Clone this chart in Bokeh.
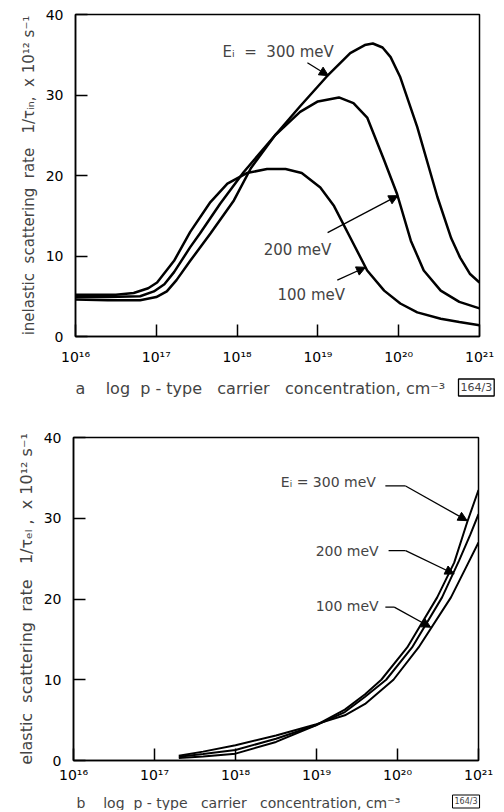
from bokeh.plotting import figure
from bokeh.layouts import column
from bokeh.models import Label, Arrow, NormalHead, Range1d, FixedTicker
from bokeh.embed import file_html
from bokeh.resources import INLINE

# ---------------- data: panel a (inelastic), x = log10 p ----------------
in_x_100 = [16.0, 16.5, 16.72, 16.9, 17.01, 17.22, 17.42, 17.67, 17.88, 18.12, 18.37, 18.6, 18.8,
            19.03, 19.2, 19.4, 19.61, 19.82, 20.02, 20.23, 20.52, 20.75, 21.0]
in_y_100 = [5.2, 5.2, 5.4, 6.0, 6.7, 9.4, 13.0, 16.7, 19.0, 20.3, 20.8, 20.8, 20.3,
            18.5, 16.2, 12.3, 8.2, 5.7, 4.1, 3.0, 2.2, 1.8, 1.4]
in_x_200 = [16.0, 16.4, 16.8, 16.97, 17.1, 17.22, 17.42, 17.54, 17.79, 18.08, 18.47, 18.78, 19.0,
            19.26, 19.44, 19.61, 19.82, 19.98, 20.15, 20.31, 20.52, 20.75, 21.0]
in_y_200 = [4.9, 4.9, 5.0, 5.6, 6.5, 8.0, 11.1, 12.8, 16.5, 20.4, 25.0, 27.9, 29.2,
            29.7, 29.0, 27.2, 21.9, 17.7, 11.9, 8.2, 5.7, 4.3, 3.5]
in_x_300 = [16.0, 16.4, 16.8, 17.0, 17.13, 17.25, 17.42, 17.67, 17.96, 18.17, 18.47, 18.78, 19.11,
            19.4, 19.58, 19.68, 19.8, 19.9, 20.02, 20.23, 20.48, 20.65, 20.76, 20.88, 21.0]
in_y_300 = [4.6, 4.5, 4.5, 4.9, 5.6, 7.0, 9.4, 12.8, 16.9, 20.9, 25.0, 28.6, 32.3,
            35.2, 36.2, 36.4, 35.9, 34.7, 32.2, 26.0, 17.3, 12.2, 9.8, 7.8, 6.7]

# ---------------- data: panel b (elastic) ----------------
el_x_100 = [17.3, 17.6, 18.0, 18.5, 19.0, 19.35, 19.6, 19.95, 20.26, 20.66, 20.86, 21.0]
el_y_100 = [0.6, 1.1, 1.9, 3.1, 4.5, 5.6, 7.0, 10.0, 14.0, 20.2, 24.2, 27.0]
el_x_200 = [17.3, 17.6, 18.0, 18.5, 19.0, 19.35, 19.6, 19.86, 20.18, 20.55, 20.76, 20.9, 21.0]
el_y_200 = [0.45, 0.8, 1.3, 2.7, 4.4, 6.0, 7.9, 10.0, 14.0, 20.2, 24.75, 28.0, 30.5]
el_x_300 = [17.3, 17.6, 18.0, 18.5, 19.0, 19.35, 19.6, 19.8, 20.12, 20.49, 20.7, 20.86, 21.0]
el_y_300 = [0.3, 0.5, 0.85, 2.3, 4.4, 6.3, 8.2, 10.0, 14.0, 20.2, 24.5, 29.5, 33.5]

x_ticks = [16, 17, 18, 19, 20, 21]
x_tick_labels = ["10¹⁶", "10¹⁷", "10¹⁸", "10¹⁹", "10²⁰", "10²¹"]
y_ticks = [0, 10, 20, 30, 40]

NB = "\u00a0"  # non-breaking space (keeps the wide spacing of the original lettering)

# annotations (text, x, y) and arrows (x0, y0, x1, y1)
a_notes = [("Eᵢ" + NB * 2 + "=" + NB * 2 + "300 meV", 17.82, 35.3),
           ("200 meV", 18.33, 10.8), ("100 meV", 18.50, 5.2)]
a_arrows = [(18.87, 34.0, 19.13, 32.4), (19.12, 12.9, 19.99, 17.5), (19.24, 7.0, 19.59, 8.6)]
b_notes = [("Eᵢ = 300 meV", 18.56, 34.5), ("200 meV", 18.99, 25.9), ("100 meV", 18.99, 19.1)]
b_leaders = [(19.85, 34.0, 20.10, 34.0), (19.89, 26.0, 20.10, 26.0), (19.85, 19.0, 19.96, 19.0)]
b_arrows = [(20.10, 34.0, 20.86, 29.7), (20.10, 26.0, 20.70, 23.1), (19.96, 19.0, 20.41, 16.5)]

cap_body = ("log" + NB * 2 + "p" + NB + "-" + NB + "type" + NB * 3 + "carrier" + NB * 3 +
            "concentration, cm⁻³")
cap_a = "a" + NB * 4 + cap_body
cap_b = "b" + NB * 4 + cap_body
ylab_a = ("inelastic" + NB * 2 + "scattering" + NB * 2 + "rate" + NB * 3 + "1/τᵢₙ," + NB * 2 +
          "x 10¹² s⁻¹")
ylab_b = ("elastic" + NB * 2 + "scattering" + NB * 2 + "rate" + NB * 3 + "1/τₑₗ ," + NB * 2 +
          "x 10¹² s⁻¹")
fig_code = "164/3"

FONT = "DejaVu Sans"
W = 500


def make_fig(height, left, top, bottom, right, ylabel, ylabel_size):
    p = figure(width=W, height=height, output_backend="svg", toolbar_location=None,
               x_range=Range1d(16, 21), y_range=Range1d(0, 40), frame_align=False,
               min_border_left=left, min_border_top=top, min_border_bottom=bottom,
               min_border_right=right)
    p.outline_line_color = "black"
    p.outline_line_width = 1.5
    p.outline_line_alpha = 1
    p.xgrid.visible = False
    p.ygrid.visible = False
    for ax in (p.xaxis[0], p.yaxis[0]):
        ax.axis_line_width = 1.5
        ax.axis_line_color = "black"
        ax.major_tick_in = 12
        ax.major_tick_out = 0
        ax.major_tick_line_width = 1.5
        ax.major_tick_line_color = "black"
        ax.minor_tick_line_color = None
        ax.major_label_text_font = FONT
        ax.major_label_text_font_size = "14px"
        ax.major_label_text_color = "black"
    p.xaxis.ticker = FixedTicker(ticks=x_ticks)
    p.xaxis.major_label_overrides = {t: l for t, l in zip(x_ticks, x_tick_labels)}
    p.yaxis.ticker = FixedTicker(ticks=y_ticks)
    p.yaxis.major_label_standoff = 12
    p.yaxis.axis_label = ylabel
    p.yaxis.axis_label_text_font = FONT
    p.yaxis.axis_label_text_font_size = ylabel_size
    p.yaxis.axis_label_text_font_style = "normal"
    p.yaxis.axis_label_standoff = 5
    return p


def caption_fig(height, text, tx, ty, tsize, bx, by, bsize, bwidth):
    c = figure(width=W, height=height, output_backend="svg", toolbar_location=None,
               x_range=Range1d(0, 1), y_range=Range1d(0, 1), frame_align=False,
               x_axis_type=None, y_axis_type=None, min_border=0,
               min_border_left=0, min_border_right=0, min_border_top=0, min_border_bottom=0)
    c.outline_line_color = None
    c.xgrid.visible = False
    c.ygrid.visible = False
    c.add_layout(Label(x=tx, y=ty, x_units="screen", y_units="screen", text=text,
                       text_font=FONT, text_font_size=tsize, text_baseline="middle"))
    c.add_layout(Label(x=bx, y=by, x_units="screen", y_units="screen", text=fig_code,
                       text_font=FONT, text_font_size=bsize, text_baseline="middle",
                       border_line_color="black", border_line_width=bwidth, padding=2))
    return c


# ---------------- panel a ----------------
pa = make_fig(370, 75, 14, 34, W - 479, ylab_a, "15px")
pa.xaxis.major_label_standoff = 12
for xs, ys in ((in_x_100, in_y_100), (in_x_200, in_y_200), (in_x_300, in_y_300)):
    pa.line(xs, ys, line_color="black", line_width=2.5)
for t, x, y in a_notes:
    pa.add_layout(Label(x=x, y=y, text=t, text_font=FONT, text_font_size="15px",
                        text_baseline="middle", text_align="left"))
for x0, y0, x1, y1 in a_arrows:
    pa.add_layout(Arrow(end=NormalHead(size=9, fill_color="black", line_color="black"),
                        x_start=x0, y_start=y0, x_end=x1, y_end=y1, line_width=1.3))

ca = caption_fig(32, cap_a, 75, 14, "16px", 458, 15, "11px", 1.3)

# ---------------- panel b ----------------
pb = make_fig(384, 73, 35, 26, W - 478, ylab_b, "16px")
pb.xaxis.major_label_standoff = 6
for xs, ys in ((el_x_100, el_y_100), (el_x_200, el_y_200), (el_x_300, el_y_300)):
    pb.line(xs, ys, line_color="black", line_width=2)
for t, x, y in b_notes:
    pb.add_layout(Label(x=x, y=y, text=t, text_font=FONT, text_font_size="14px",
                        text_baseline="middle", text_align="left"))
pb.segment(x0=[s[0] for s in b_leaders], y0=[s[1] for s in b_leaders],
           x1=[s[2] for s in b_leaders], y1=[s[3] for s in b_leaders],
           line_color="black", line_width=1.3)
for x0, y0, x1, y1 in b_arrows:
    pb.add_layout(Arrow(end=NormalHead(size=9, fill_color="black", line_color="black"),
                        x_start=x0, y_start=y0, x_end=x1, y_end=y1, line_width=1.3))

cb = caption_fig(24, cap_b, 76, 8, "14px", 452, 9, "8px", 1.0)

layout = column(pa, ca, pb, cb, spacing=0)
open("out.html", "w").write(file_html(layout, INLINE))
